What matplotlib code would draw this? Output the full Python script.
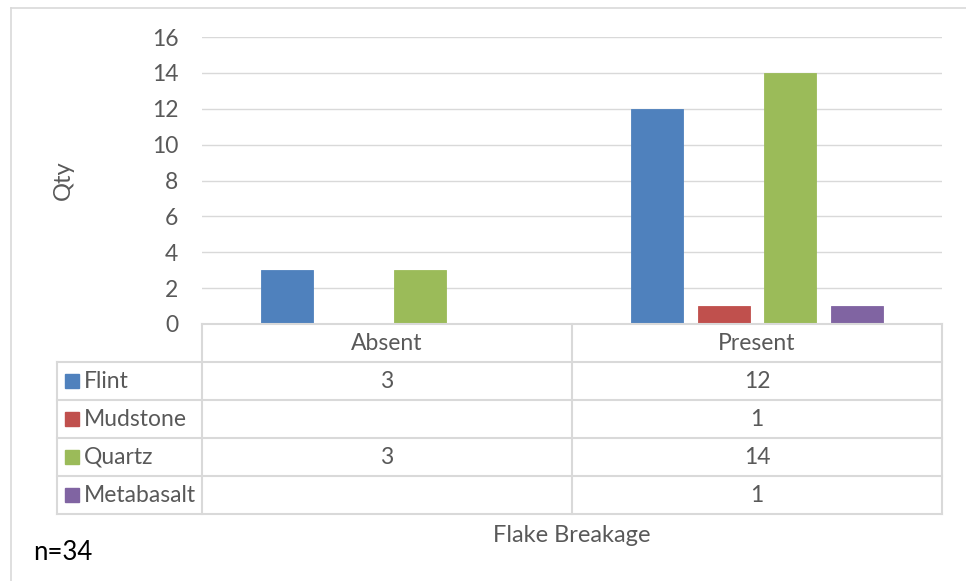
import matplotlib
matplotlib.use("Agg")
import matplotlib.pyplot as plt
from matplotlib.patches import Rectangle
from matplotlib.lines import Line2D

plt.rcParams['font.family'] = ['Lato', 'DejaVu Sans']

# data
categories = ["Absent", "Present"]
series = ["Flint", "Mudstone", "Quartz", "Metabasalt"]
values = {
    "Flint": [3, 12],
    "Mudstone": [None, 1],
    "Quartz": [3, 14],
    "Metabasalt": [None, 1],
}
colors = ["#4F81BD", "#C0504D", "#9BBB59", "#8064A2"]
yticks = [0, 2, 4, 6, 8, 10, 12, 14, 16]

W, H = 966, 581
fig = plt.figure(figsize=(W / 100, H / 100), dpi=100)
txt = "#595959"
grid = "#D9D9D9"
fs = 16.5

def fx(px):
    return px / W

def fy(py):
    return 1 - py / H

# outer chart border
fig.add_artist(Line2D([fx(11), 1], [fy(8), fy(8)], color=grid, lw=1.2))
fig.add_artist(Line2D([fx(11), fx(11)], [fy(8), 0], color=grid, lw=1.2))

# bar chart
ax = fig.add_axes([fx(202), fy(324), fx(942) - fx(202), fy(37) - fy(324)])
bw = 0.1405
step = 0.181
for i, (s, c) in enumerate(zip(series, colors)):
    for j, v in enumerate(values[s]):
        if v is None:
            continue
        ax.bar(j + (i - 1.5) * step, v, width=bw, color=c,
               edgecolor=c, lw=0.6, zorder=3)
ax.set_xlim(-0.5, 1.5)
ax.set_ylim(0, 16)
ax.set_yticks(yticks)
ax.set_xticks([])
ax.tick_params(axis='y', length=0, pad=17, labelsize=fs, labelcolor=txt)
ax.yaxis.grid(True, color=grid, lw=1.0, zorder=0)
for sp in ax.spines.values():
    sp.set_visible(False)
fig.text(fx(63), fy(180), "Qty", rotation=90, ha='center', va='center',
         fontsize=17, color=txt)

# data table below the chart
lab_w = (202 - 56.7) / 370
tx = fig.add_axes([fx(56.7), fy(514), fx(942) - fx(56.7), fy(324) - fy(514)])
tx.set_xlim(-0.5 - lab_w, 1.5)
tx.set_ylim(5, 0)
tx.axis('off')
tlw = 1.5
# horizontal lines
tx.plot([-0.5, 1.5], [0, 0], color=grid, lw=tlw, clip_on=False)
for r in range(1, 6):
    tx.plot([-0.5 - lab_w, 1.5], [r, r], color=grid, lw=tlw, clip_on=False)
# vertical lines
tx.plot([-0.5 - lab_w] * 2, [1, 5], color=grid, lw=tlw, clip_on=False)
for xv in [-0.5, 0.5, 1.5]:
    tx.plot([xv, xv], [0, 5], color=grid, lw=tlw, clip_on=False)
for j, cat in enumerate(categories):
    tx.text(j, 0.5, cat, ha='center', va='center', fontsize=fs, color=txt)
for i, (s, c) in enumerate(zip(series, colors)):
    tx.add_patch(Rectangle((-0.5 - lab_w + 8.5 / 370, i + 1.5 - 0.185), 14 / 370, 0.37,
                           color=c, clip_on=False))
    tx.text(-0.5 - lab_w + 27 / 370, i + 1.5, s, ha='left', va='center',
            fontsize=fs, color=txt)
    for j, v in enumerate(values[s]):
        if v is not None:
            tx.text(j, i + 1.5, str(v), ha='center', va='center',
                    fontsize=fs, color=txt)

fig.text(fx(572), fy(536), "Flake Breakage", ha='center', va='center',
         fontsize=17, color=txt)
fig.text(fx(33), fy(552), "n=34", ha='left', va='center', fontsize=18.5, color='black')

fig.savefig("out.png", dpi=100)
